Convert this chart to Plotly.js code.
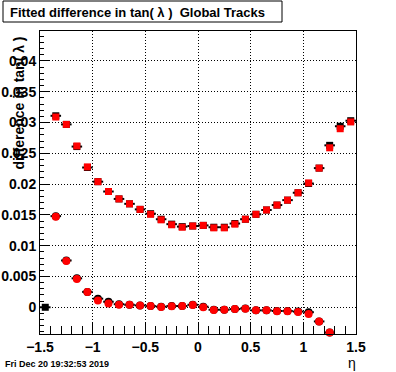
<!DOCTYPE html>
<html>
<head>
<meta charset="utf-8">
<script src="https://cdn.plot.ly/plotly-3.0.1.min.js"></script>
<style>html,body{margin:0;padding:0;background:#fff;}</style>
</head>
<body>
<div id="chart" style="width:396px;height:372px;"></div>
<script>
// bin centres in eta
const eta = [-1.45,-1.35,-1.25,-1.15,-1.05,-0.95,-0.85,-0.75,-0.65,-0.55,-0.45,-0.35,-0.25,-0.15,-0.05,
             0.05,0.15,0.25,0.35,0.45,0.55,0.65,0.75,0.85,0.95,1.05,1.15,1.25,1.35,1.45];

// upper series (squares): red fit and black reference
const sqRed = [null,0.0309,0.0297,0.0262,0.0228,0.0204,0.0188,0.0176,0.0168,0.0159,0.0151,0.0142,0.0134,0.0130,0.0132,
               0.0133,0.0129,0.0129,0.0135,0.0143,0.0151,0.0158,0.0166,0.0174,0.0186,0.0202,0.0226,0.0259,0.0290,0.0301];
const sqBlack = [0.0,0.0311,0.0297,0.0261,0.0227,0.0204,0.0188,0.0176,0.0168,0.0159,0.0152,0.0143,0.0135,0.0131,0.0132,
               0.0133,0.0130,0.0130,0.0136,0.0143,0.0151,0.0158,0.0166,0.0174,0.0186,0.0201,0.0226,0.0263,0.0294,0.0303];

// lower series (circles)
const ciRed = [null,0.0147,0.0075,0.0046,0.0025,0.0011,0.0006,0.0004,0.0004,0.0003,0.0002,0.00005,0.00015,0.0002,0.00035,
               0.0,-0.00045,-0.0004,-0.0003,-0.00025,-0.0005,-0.0005,-0.00065,-0.00065,-0.00075,-0.0011,-0.0023,-0.0041,null,null];
const ciBlack = [null,0.0148,0.0076,0.0047,0.0025,0.0014,0.0009,0.0005,0.0004,0.0003,0.0002,0.0001,0.0002,0.0002,0.0004,
               0.0001,-0.0004,-0.0004,-0.0003,-0.0002,-0.0005,-0.0005,-0.0006,-0.0006,-0.0007,-0.0008,-0.0023,-0.0041,null,null];

const halfBin = 0.05;

const titleText = "Fitted difference in tan( \u03bb )\u00a0\u00a0Global Tracks";
const yTitleText = "difference in tan( \u03bb )";
const xTitleText = "\u03b7";
const dateText = "Fri Dec 20 19:32:53 2019";

const F = "Liberation Sans, Arial, Helvetica, sans-serif";

function errTrace(y, sym){
  return {x: eta, y: y, type: 'scatter', mode: 'markers',
    marker: {symbol: sym, size: sym === 'circle' ? 8 : 7, color: 'black'},
    error_x: {type: 'constant', value: halfBin, color: 'black', thickness: 2, width: 0},
    showlegend: false, hoverinfo: 'skip', cliponaxis: false};
}
function redTrace(y, sym){
  return {x: eta, y: y, type: 'scatter', mode: 'markers',
    marker: {symbol: sym, size: sym === 'circle' ? 8 : 7, color: '#ff0000'},
    showlegend: false, cliponaxis: false};
}

const data = [errTrace(sqBlack,'square'), errTrace(ciBlack,'circle'), redTrace(sqRed,'square'), redTrace(ciRed,'circle')];

const L=40, R=356, T=31, B=334;
const W=R-L, H=B-T;
const px = v => (v-L)/W;
const py = v => (B-v)/H;

const layout = {
  width: 396, height: 372,
  margin: {l: L, r: 396-R, t: T, b: 372-B, pad: 0},
  paper_bgcolor: 'white', plot_bgcolor: 'white',
  font: {family: F, color: 'black'},
  title: {text: titleText, font: {family: F, size: 13, weight: 'bold', color: 'black'},
          xref: 'container', yref: 'container', x: 10/396, xanchor: 'left', y: 1-12/372, yanchor: 'middle'},
  xaxis: {range: [-1.5, 1.5], dtick: 0.5, tick0: 0, showline: true, mirror: true, linecolor: 'black', linewidth: 1,
          ticks: 'inside', ticklen: 12, tickcolor: 'black', tickwidth: 1,
          showgrid: true, gridcolor: 'black', griddash: '1px,2px', gridwidth: 1, zeroline: false,
          tickfont: {family: F, size: 14, weight: 'bold'},
          minor: {dtick: 0.1, ticks: 'inside', ticklen: 8, tickcolor: 'black', tickwidth: 1, showgrid: false}},
  yaxis: {range: [-0.00434, 0.04487], dtick: 0.005, tick0: 0, showline: true, mirror: true, linecolor: 'black', linewidth: 1,
          ticks: 'inside', ticklen: 9, tickcolor: 'black', tickwidth: 1,
          showgrid: true, gridcolor: 'black', griddash: '1px,2px', gridwidth: 1, zeroline: false,
          tickfont: {family: F, size: 14, weight: 'bold'},
          minor: {dtick: 0.001, ticks: 'inside', ticklen: 4, tickcolor: 'black', tickwidth: 1, showgrid: false}},
  shapes: [{type: 'rect', xref: 'paper', yref: 'paper', x0: px(3), x1: px(282), y0: py(22), y1: py(1),
            line: {color: 'black', width: 1}, fillcolor: 'rgba(0,0,0,0)'}],
  annotations: [
    {text: yTitleText, xref: 'paper', yref: 'paper', x: px(18), y: py(35), xanchor: 'center', yanchor: 'top',
     textangle: -90, showarrow: false, font: {family: F, size: 14, weight: 'bold', color: 'black'}},
    {text: xTitleText, xref: 'paper', yref: 'paper', x: px(352), y: py(363), xanchor: 'center', yanchor: 'middle',
     showarrow: false, font: {family: F, size: 14, color: 'black'}},
    {text: dateText, xref: 'paper', yref: 'paper', x: px(3), y: py(364), xanchor: 'left', yanchor: 'middle',
     showarrow: false, font: {family: F, size: 9, weight: 'bold', color: 'black'}}
  ]
};

Plotly.newPlot('chart', data, layout, {staticPlot: true, displayModeBar: false});
</script>
</body>
</html>
